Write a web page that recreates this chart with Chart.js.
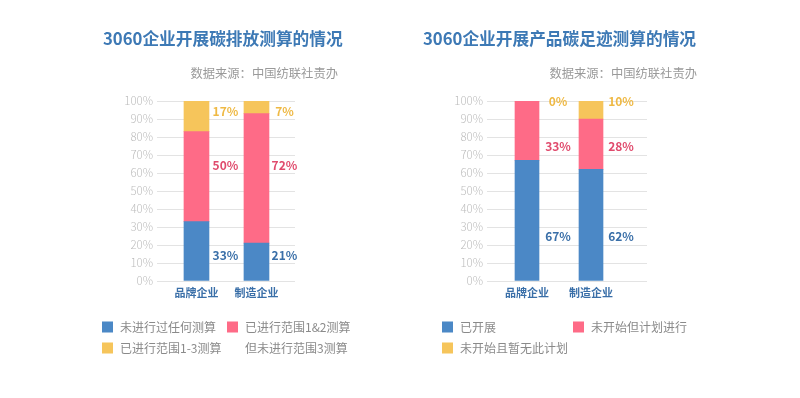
<!DOCTYPE html>
<html><head><meta charset="utf-8">
<script src="https://cdn.jsdelivr.net/npm/chart.js@4"></script>
<style>
html,body{margin:0;padding:0;background:#fff;}
#wrap{position:relative;width:800px;height:398px;overflow:hidden;}
canvas{position:absolute;top:0;}
</style></head>
<body><div id="wrap">
<canvas id="c1" width="400" height="398" style="left:0"></canvas>
<canvas id="c2" width="400" height="398" style="left:400px"></canvas>
</div>
<script>
// ---- data ----
const categories = ['品牌企业', '制造企业'];
const yTicks = [0,10,20,30,40,50,60,70,80,90,100];

const title1 = '3060企业开展碳排放测算的情况';
const series1Names = ['未进行过任何测算', '已进行范围1&2测算\n但未进行范围3测算', '已进行范围1-3测算'];
const s1Blue = [33, 21];
const s1Pink = [50, 72];
const s1Yellow = [17, 7];

const title2 = '3060企业开展产品碳足迹测算的情况';
const series2Names = ['已开展', '未开始但计划进行', '未开始且暂无此计划'];
const s2Blue = [67, 62];
const s2Pink = [33, 28];
const s2Yellow = [0, 10];

const sourceText = '数据来源：中国纺联社责办';

// ---- styles ----
const FONT = '"Noto Sans CJK SC", "Open Sans", sans-serif';
const barColors = ['#4b88c6', '#fe6b87', '#f6c55b'];
const labelColors = ['#3a6fa8', '#e04b6d', '#efb944'];
const titleColor = '#3d79b5';

function makeChart(id, cfg) {
  const datasets = cfg.series.map((vals, i) => ({
    label: cfg.names[i],
    data: vals.map((v, j) => ({x: j, y: v})),
    backgroundColor: barColors[i],
    borderWidth: 0,
    stack: 'all',
    barThickness: cfg.barW
  }));
  const overlay = {
    id: 'overlay',
    afterDatasetsDraw(chart) {
      const ctx = chart.ctx;
      const xs = chart.scales.x, ys = chart.scales.y;
      ctx.save();
      ctx.font = 'bold 12px ' + FONT;
      ctx.textAlign = 'center';
      ctx.textBaseline = 'middle';
      cfg.series.forEach((vals, i) => {
        vals.forEach((v, j) => {
          const px = xs.getPixelForValue(j) + cfg.labelDx[j];
          const py = ys.getPixelForValue(cfg.labelRows[i]);
          ctx.fillStyle = labelColors[i];
          ctx.fillText(v + '%', px, py);
        });
      });
      ctx.font = 'bold 16.7px ' + FONT;
      ctx.fillStyle = titleColor;
      ctx.textAlign = 'left';
      ctx.fillText(cfg.title, cfg.titleX, 39);
      ctx.font = '12.3px ' + FONT;
      ctx.fillStyle = '#9a9a9a';
      ctx.textAlign = 'right';
      ctx.fillText(sourceText, cfg.srcRight, 73);
      ctx.font = '12px ' + FONT;
      ctx.textAlign = 'left';
      cfg.legendPos.forEach((p, i) => {
        ctx.fillStyle = barColors[i];
        ctx.fillRect(p[0], p[1] - 5.5, 11, 11);
        ctx.fillStyle = '#8a8a8a';
        const lines = cfg.names[i].split('\n');
        lines.forEach((ln, k) => ctx.fillText(ln, p[0] + 18, p[1] + k * 21));
      });
      ctx.restore();
    }
  };
  return new Chart(document.getElementById(id), {
    type: 'bar',
    data: {datasets},
    plugins: [overlay],
    options: {
      responsive: false,
      animation: false,
      events: [],
      layout: {padding: cfg.padding},
      plugins: {legend: {display: false}, tooltip: {enabled: false}, title: {display: false}},
      scales: {
        x: {
          type: 'linear', offset: false, bounds: 'data',
          min: cfg.xMin, max: cfg.xMax,
          afterBuildTicks: s => { s.ticks = categories.map((c, i) => ({value: i})); },
          afterFit: s => { s.height = 22; },
          grid: {display: false},
          border: {display: false},
          ticks: {
            callback: v => categories[v] ?? '',
            color: '#3a6fa8', font: {family: FONT, size: 11, weight: 'bold'}, padding: -3, maxRotation: 0
          }
        },
        y: {
          stacked: true, min: 0, max: 100,
          afterBuildTicks: s => { s.ticks = yTicks.map(v => ({value: v})); },
          afterFit: s => { s.width = 50; },
          grid: {color: '#e3e3e3', lineWidth: 1, drawTicks: false},
          border: {display: false},
          ticks: {
            callback: v => v + '%',
            color: '#bdbdbd', font: {family: FONT, size: 11.5, weight: '300'}, padding: 4
          }
        }
      }
    }
  });
}

makeChart('c1', {
  title: title1, names: series1Names,
  series: [s1Blue, s1Pink, s1Yellow],
  barW: 25,
  padding: {left: 107, right: 105, top: 101, bottom: 95},
  xMin: -0.658, xMax: 1.642,
  labelDx: [29, 28],
  labelRows: [14, 64, 94],
  titleX: 103, srcRight: 338,
  legendPos: [[102, 327], [227, 327], [102, 348]]
});

makeChart('c2', {
  title: title2, names: series2Names,
  series: [s2Blue, s2Pink, s2Yellow],
  barW: 24,
  padding: {left: 37, right: 153, top: 101, bottom: 95},
  xMin: -0.625, xMax: 1.875,
  labelDx: [31, 30],
  labelRows: [25, 74.5, 99.5],
  titleX: 23, srcRight: 297,
  legendPos: [[42, 327], [173, 327], [42, 348]]
});
</script>
</body></html>
